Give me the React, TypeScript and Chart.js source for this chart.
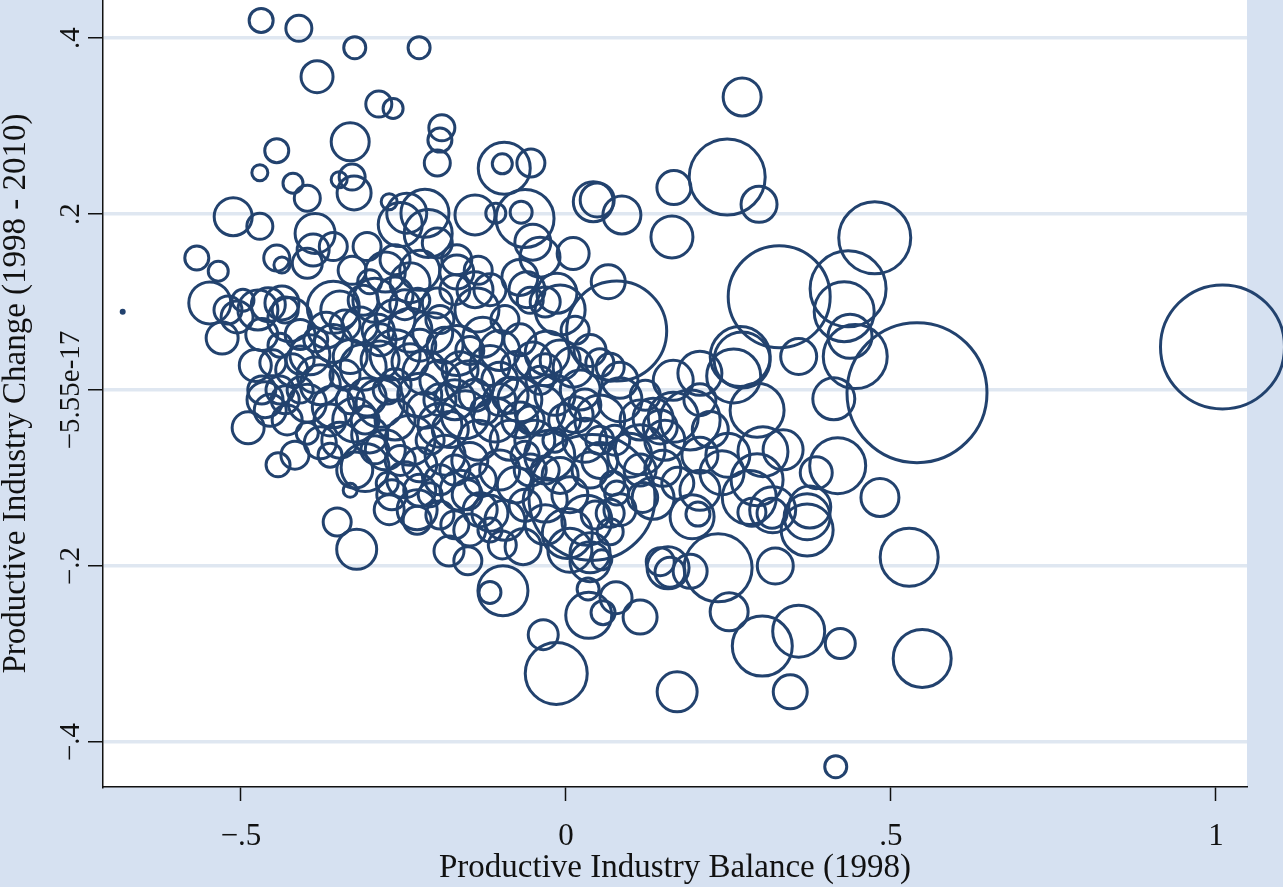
import { useEffect, useRef } from "react"
import { Chart, registerables } from "chart.js"

Chart.register(...registerables)

// Productive Industry Balance (1998) -- one value per region
const balance1998 = [
  // top
  -0.469, -0.411, -0.325, -0.226, -0.383, -0.288, -0.266, 0.271, -0.191, -0.194,
  -0.332, -0.445, -0.198, -0.095, -0.098, -0.054, -0.471, -0.349, -0.329, -0.326,
  -0.42, -0.398, -0.272, 0.248, 0.166, 0.297, 0.042, 0.048, 0.086, -0.512,
  -0.471, 0.163, 0.475, -0.14, -0.108, -0.063, -0.069, -0.051, 0.011,
  // left side and lower isolated
  -0.568, -0.535, -0.548, -0.52, -0.506, -0.497, -0.529, -0.489, -0.443, -0.682,
  -0.445, -0.437, -0.437, -0.432, -0.458, -0.398, -0.389, -0.386, -0.358, -0.306,
  -0.358, -0.348, -0.451, -0.422, -0.44, -0.409, -0.398, -0.429, -0.358, -0.332,
  -0.312, -0.286, -0.306, -0.286, -0.275, -0.358, -0.348, -0.378, -0.398, -0.309,
  -0.332, -0.275, -0.352, -0.322, -0.272, -0.18, -0.151, -0.097, -0.117, -0.035,
  -0.015, 0.035, 0.034, 0.077, 0.114, 0.037,
  // C
  -0.255, -0.245, -0.217, -0.212, -0.198, -0.168, -0.168, -0.225, -0.24, -0.263,
  -0.278, -0.302, -0.329, -0.263, -0.294, -0.248, -0.228, -0.198, -0.137,
  // D
  -0.474, -0.468, -0.425, -0.409, -0.385, -0.44, -0.394, -0.369, -0.34,
  // E
  -0.317, -0.289, -0.263, -0.24, -0.205, -0.186, -0.168, -0.128, -0.263, -0.24,
  -0.217, -0.194, -0.163, -0.148, -0.117, -0.102,
  // F
  -0.071, -0.04, -0.06, -0.014, -0.009, -0.032, -0.055, 0.065, 0.078, -0.029,
  -0.009, -0.051, 0.011, 0.052, 0.068, -0.071, -0.094,
  // G
  -0.325, -0.302, -0.263, -0.24, -0.217, -0.194, -0.171, -0.155, -0.135, -0.186,
  -0.225, -0.255, -0.278, -0.171, -0.148, -0.109, -0.086,
  // H
  -0.071, -0.04, -0.017, -0.048, -0.025, -0.102, -0.078, -0.055, -0.009, -0.032,
  // I
  0.083, 0.114, 0.134, 0.145, 0.165, 0.191, 0.294, 0.134, 0.149, 0.172,
  0.072, 0.068, 0.068, 0.055, 0.194, 0.203, 0.04,
  // J
  0.249, 0.24, 0.303, 0.334, 0.282, 0.294, 0.286, 0.317, 0.318, 0.371,
  0.371, 0.375, 0.385, 0.418, 0.483, 0.234, 0.322, 0.157, 0.16, 0.191,
  0.145,
  // K
  -0.268, -0.229, -0.229, -0.152, -0.132, -0.117, -0.117, -0.094, -0.098, -0.066,
  0.006, 0.037, 0.002, 0.032, 0.078, 0.118, -0.194, -0.209,
  // L
  0.057, 0.171, 0.251, 0.302, 0.358, 0.422, 0.345, 0.415, 0.528, 0.548,
  // M
  0.412, 0.445, 0.437, 0.428, 0.434, 0.328, 0.358, 0.54, 1.01, 0.268,
  0.271, 0.258, 0.206, 0.165,
  // N
  0.022, 0.052, 0.029, 0.098, 0.052, 0.083, 0.122, 0.014, 0.114,
  // O
  -0.378, -0.34, -0.332, -0.363, -0.263, -0.225, -0.194, -0.148, -0.102, -0.078,
  -0.102, -0.125, -0.071, -0.002, -0.017, -0.063, -0.132, -0.163, -0.225, -0.309,
  -0.409, -0.478, -0.463, -0.04, 0.037, 0.014, -0.14, -0.194, -0.312, -0.032,
  0.037, 0.083, 0.114, 0.152, 0.222, 0.206, 0.075, 0.045, -0.032, -0.171,
  // extra
  -0.468, -0.455, -0.171, -0.117, -0.135, -0.417, 0.206, 0.206,
  // P (dense core)
  -0.386, -0.432, -0.363, -0.294, -0.325, -0.248, -0.209, -0.178, -0.14, -0.086,
  -0.055, -0.032, 0.029, 0.052, 0.006, -0.063, -0.148, -0.194, -0.286, -0.225,
]

// Productive Industry Change (1998 - 2010)
const change9810 = [
  // top
  0.42, 0.411, 0.389, 0.389, 0.356, 0.325, 0.32, 0.333, 0.298, 0.284,
  0.282, 0.272, 0.258, 0.252, 0.257, 0.258, 0.247, 0.239, 0.242, 0.224,
  0.235, 0.218, 0.214, 0.242, 0.23, 0.211, 0.214, 0.216, 0.199, 0.197,
  0.186, 0.174, 0.173, 0.199, 0.201, 0.195, 0.202, 0.168, 0.155,
  // left side and lower isolated
  0.15, 0.135, 0.099, 0.091, 0.083, 0.102, 0.059, -0.043, -0.085, 0.089,
  0.15, 0.142, 0.099, 0.091, 0.097, 0.144, 0.159, 0.178, 0.163, 0.163,
  0.094, 0.091, 0.031, 0.023, 0, 0, -0.015, -0.034, 0.053, 0.038,
  0.026, 0.034, -0.008, -0.015, 0, -0.019, -0.057, -0.06, -0.049, -0.088,
  -0.114, -0.106, -0.15, -0.181, -0.136, -0.183, -0.194, -0.228, -0.23, -0.278,
  -0.322, -0.256, -0.226, -0.236, -0.258, -0.195,
  // C
  0.188, 0.201, 0.201, 0.178, 0.167, 0.148, 0.134, 0.136, 0.122, 0.148,
  0.134, 0.123, 0.136, 0.108, 0.102, 0.097, 0.102, 0.099, 0.091,
  // D
  0.091, 0.063, 0.08, 0.063, 0.057, 0.051, 0.04, 0.068, 0.074,
  // E
  0.074, 0.068, 0.08, 0.068, 0.065, 0.051, 0.045, 0.06, 0.04, 0.032,
  0.02, 0.011, 0.023, 0.006, 0.028, 0.011,
  // F
  0.128, 0.151, 0.114, 0.11, 0.091, 0.1, 0.102, 0.123, 0.067, 0.042,
  0.034, 0.034, 0.026, 0.031, 0.026, 0.057, 0.08,
  // G
  -0.034, -0.051, -0.034, -0.057, -0.023, -0.04, -0.011, -0.028, -0.057, -0.074,
  -0.085, -0.08, -0.068, -0.091, -0.08, -0.034, -0.057,
  // H
  -0.011, -0.023, -0.006, -0.057, -0.074, -0.091, -0.108, -0.091, -0.097, -0.125,
  // I
  -0.011, -0.034, -0.032, -0.042, -0.031, -0.034, -0.023, -0.123, -0.089, -0.106,
  -0.106, -0.14, -0.161, -0.193, -0.144, -0.141, -0.122,
  // J
  -0.074, -0.094, -0.07, -0.068, -0.122, -0.102, -0.139, -0.14, -0.136, -0.159,
  -0.144, -0.133, -0.094, -0.086, -0.122, -0.202, -0.2, -0.202, -0.207, -0.206,
  -0.195,
  // K
  -0.119, -0.136, -0.148, -0.119, -0.136, -0.159, -0.14, -0.148, -0.176, -0.178,
  -0.182, -0.185, -0.163, -0.148, -0.117, -0.122, -0.102, -0.119,
  // L
  -0.253, -0.343, -0.252, -0.291, -0.274, -0.288, -0.343, -0.428, -0.19, -0.305,
  // M
  -0.01, 0.038, 0.061, 0.089, 0.115, 0.106, 0.038, -0.003, 0.049, 0.038,
  0.034, 0.016, 0.019, 0.011,
  // N
  0, -0.034, -0.057, -0.074, -0.08, 0.011, -0.006, -0.028, -0.068,
  // O
  0.006, 0.017, -0.011, -0.074, 0.006, -0.006, -0.011, 0.045, 0.045, 0.028,
  -0.011, -0.023, -0.034, -0.034, -0.057, -0.074, -0.102, -0.114, -0.114, -0.034,
  0.034, 0.028, -0.011, 0.011, 0.045, 0.068, 0.114, 0.08, 0.102, -0.091,
  -0.091, -0.136, -0.091, -0.057, -0.045, -0.011, -0.057, -0.142, -0.153, -0.153,
  // extra
  0, -0.023, 0.114, 0.114, 0.136, -0.074, -0.074, -0.114,
  // P (dense core)
  0.017, -0.011, -0.034, -0.068, -0.091, -0.102, -0.057, -0.045, -0.006, -0.006,
  -0.034, 0.023, -0.017, -0.057, -0.119, -0.131, -0.159, -0.142, 0.057, 0.051,
]

// bubble weight (drawn as radius)
const bubbleSize = [
  // top
  12, 13, 11, 11, 16, 13, 10, 19, 13, 12,
  19, 12, 13, 26, 10, 14, 8, 8, 13, 17,
  10, 13, 8, 38, 17, 18, 20, 17, 19, 19,
  13, 21, 36, 20, 10, 29, 11, 18, 16,
  // left side and lower isolated
  12, 10, 21, 14, 16, 11, 16, 16, 12, 1.5,
  13, 8, 17, 13, 17, 15, 16, 20, 14, 14,
  26, 19, 13, 16, 14, 13, 19, 15, 19, 17,
  23, 19, 19, 24, 14, 21, 18, 16, 11, 24,
  7, 11, 14, 20, 15, 15, 14, 25, 11, 15,
  31, 23, 11, 16, 17, 20,
  // C
  22, 20, 24, 24, 15, 15, 17, 20, 20, 15,
  20, 12, 14, 18, 22, 15, 12, 15, 22,
  // D
  20, 16, 22, 15, 12, 12, 20, 18, 15,
  // E
  18, 16, 20, 22, 20, 18, 25, 20, 25, 18,
  22, 20, 18, 24, 20, 18,
  // F
  18, 20, 18, 20, 25, 15, 13, 17, 50, 22,
  20, 18, 20, 14, 14, 16, 14,
  // G
  22, 18, 20, 25, 18, 22, 20, 24, 20, 20,
  17, 15, 20, 15, 18, 22, 20,
  // H
  22, 25, 20, 20, 25, 20, 18, 16, 18, 22,
  // I
  22, 20, 20, 17, 25, 30, 27, 21, 18, 16,
  12, 14, 13, 10, 22, 12, 63,
  // J
  22, 22, 25, 20, 27, 26, 14, 15, 23, 26,
  23, 21, 16, 28, 19, 34, 18, 21, 15, 17,
  14,
  // K
  15, 20, 14, 15, 17, 12, 18, 20, 14, 18,
  22, 20, 25, 25, 12, 15, 15, 12,
  // L
  12, 20, 19, 30, 26, 15, 17, 11, 29, 29,
  // M
  21, 32, 22, 30, 38, 51, 18, 70, 62, 30,
  28, 27, 22, 20,
  // N
  20, 25, 22, 22, 18, 18, 15, 18, 25,
  // O
  20, 15, 14, 12, 16, 22, 16, 14, 20, 14,
  16, 14, 18, 16, 12, 14, 16, 20, 16, 14,
  14, 16, 18, 14, 16, 14, 18, 14, 15, 14,
  18, 16, 16, 20, 18, 16, 15, 14, 20, 14,
  // extra
  14, 16, 15, 16, 14, 14, 18, 20,
  // P (dense core)
  18, 14, 16, 14, 18, 18, 14, 18, 16, 18,
  14, 16, 16, 14, 18, 16, 16, 14, 16, 16,
]

const xTicks = [-0.5, 0, 0.5, 1]
const xTickLabels = ["\u2212.5", "0", ".5", "1"]
const yTicks = [0.4, 0.2, 0, -0.2, -0.4]
const yTickLabels = [".4", ".2", "\u22125.55e-17", "\u2212.2", "\u2212.4"]

const NAVY = "#22426e"
const OUTER = "#d6e1f1"
const GRID = "#dfe7f1"
const INK = "#111111"
const SERIF = "'Liberation Serif', 'DejaVu Serif', serif"

export default function App() {
  const chartRef = useRef<HTMLCanvasElement>(null)
  const chartInstance = useRef<Chart | null>(null)

  useEffect(() => {
    document.body.style.margin = "0"
    if (!chartRef.current) return

    if (chartInstance.current) {
      chartInstance.current.destroy()
    }

    const ctx = chartRef.current.getContext("2d")
    if (!ctx) return

    const points = balance1998.map((x, i) => ({ x, y: change9810[i], r: bubbleSize[i] }))

    // light blue graph region, white plot region
    const backdrop = {
      id: "backdrop",
      beforeDraw(chart: Chart) {
        const { ctx, chartArea, width, height } = chart
        ctx.save()
        ctx.fillStyle = OUTER
        ctx.fillRect(0, 0, width, height)
        ctx.fillStyle = "#ffffff"
        ctx.fillRect(chartArea.left, chartArea.top, chartArea.right - chartArea.left, chartArea.bottom - chartArea.top)
        ctx.restore()
      },
    }

    // vertical y tick labels (Stata style)
    const yLabels = {
      id: "yLabels",
      afterDraw(chart: Chart) {
        const scale = chart.scales.y
        const c = chart.ctx
        c.save()
        c.fillStyle = INK
        c.font = `29px ${SERIF}`
        c.textAlign = "center"
        c.textBaseline = "alphabetic"
        yTicks.forEach((v, i) => {
          c.save()
          c.translate(scale.right - 24, scale.getPixelForValue(v))
          c.rotate(-Math.PI / 2)
          c.fillText(yTickLabels[i], 0, 0)
          c.restore()
        })
        c.restore()
      },
    }

    chartInstance.current = new Chart(ctx, {
      type: "bubble",
      data: {
        datasets: [
          {
            data: points,
            borderColor: NAVY,
            backgroundColor: "rgba(0,0,0,0)",
            borderWidth: 3,
            hoverBorderWidth: 3,
            clip: false,
          },
        ],
      },
      options: {
        responsive: false,
        animation: false,
        events: [],
        layout: { autoPadding: false, padding: { top: 0, right: 36, bottom: 0, left: 0 } },
        plugins: {
          legend: { display: false },
          tooltip: { enabled: false },
        },
        scales: {
          x: {
            type: "linear",
            min: -0.7123,
            max: 1.0477,
            afterBuildTicks: (s) => {
              s.ticks = xTicks.map((value) => ({ value }))
            },
            afterFit: (s) => {
              s.height = 100
            },
            ticks: {
              color: INK,
              font: { family: SERIF, size: 31 },
              padding: 17,
              maxRotation: 0,
              minRotation: 0,
              callback: (_v, i) => xTickLabels[i],
            },
            grid: {
              display: true,
              drawOnChartArea: false,
              drawTicks: true,
              tickLength: 14,
              tickColor: INK,
              tickWidth: 1.5,
            },
            border: { display: true, color: INK, width: 1.5 },
            title: {
              display: true,
              text: "Productive Industry Balance (1998)",
              color: INK,
              font: { family: SERIF, size: 33, lineHeight: 1 },
              padding: { top: 0, bottom: 2 },
            },
          },
          y: {
            type: "linear",
            min: -0.4511,
            max: 0.4432,
            afterBuildTicks: (s) => {
              s.ticks = yTicks.map((value) => ({ value }))
            },
            afterFit: (s) => {
              s.width = 103
            },
            ticks: { display: false },
            grid: {
              color: GRID,
              lineWidth: 3.5,
              drawTicks: true,
              tickLength: 15,
              tickColor: INK,
              tickWidth: 1.5,
            },
            border: { display: true, color: INK, width: 1.5 },
            title: {
              display: true,
              text: "Productive Industry Change (1998 - 2010)",
              color: INK,
              font: { family: SERIF, size: 33, lineHeight: 1 },
              padding: { top: 0, bottom: 0 },
            },
          },
        },
      },
      plugins: [backdrop, yLabels],
    })

    return () => {
      if (chartInstance.current) {
        chartInstance.current.destroy()
        chartInstance.current = null
      }
    }
  }, [])

  return (
    <div style={{ width: 1283, height: 887 }}>
      <canvas ref={chartRef} width={1283} height={887} style={{ display: "block" }} />
    </div>
  )
}
